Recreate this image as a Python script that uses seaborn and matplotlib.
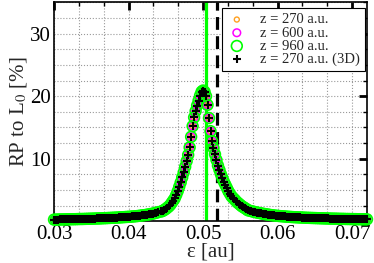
import matplotlib
matplotlib.use("Agg")
import matplotlib.pyplot as plt
import seaborn as sns
from matplotlib.ticker import MultipleLocator, FormatStrFormatter

sns.set_theme(style="white")
plt.rcParams['font.family'] = ['Liberation Serif', 'DejaVu Serif']
plt.rcParams['mathtext.fontset'] = 'stix'

# resonance scan: epsilon [au] vs RP to L0 [%]
eps_left = [0.03000, 0.03025, 0.03050, 0.03075, 0.03100, 0.03125, 0.03150, 0.03175,
            0.03200, 0.03225, 0.03250, 0.03275, 0.03300, 0.03325, 0.03350, 0.03375,
            0.03400, 0.03425, 0.03450, 0.03475, 0.03500, 0.03525, 0.03550, 0.03575,
            0.03600, 0.03625, 0.03650, 0.03675, 0.03700, 0.03725, 0.03750, 0.03775,
            0.03800, 0.03825, 0.03850, 0.03875, 0.03900, 0.03925, 0.03950, 0.03975,
            0.04000, 0.04025, 0.04050, 0.04075, 0.04100, 0.04125, 0.04150, 0.04175,
            0.04200, 0.04225, 0.04250, 0.04275, 0.04300, 0.04325, 0.04350, 0.04375,
            0.04400]
eps_peak = [0.0444, 0.0446, 0.0448, 0.0450, 0.0452, 0.0454, 0.0456, 0.0458, 0.0460, 0.0462,
            0.0464, 0.0466, 0.0468, 0.0470, 0.0472, 0.0474, 0.0476, 0.0478, 0.0480, 0.0482,
            0.0484, 0.0486, 0.0488, 0.0490, 0.0492, 0.0494, 0.0496, 0.0498, 0.0500, 0.0502,
            0.0504, 0.0506, 0.0508, 0.0510, 0.0512, 0.0514, 0.0516, 0.0518, 0.0520, 0.0522,
            0.0524, 0.0526, 0.0528, 0.0530, 0.0532, 0.0534, 0.0536, 0.0538, 0.0540, 0.0542,
            0.0544, 0.0546, 0.0548, 0.0550, 0.0552, 0.0554, 0.0556, 0.0558, 0.0560]
eps_right = [0.05625, 0.05650, 0.05675, 0.05700, 0.05725, 0.05750, 0.05775, 0.05800,
             0.05825, 0.05850, 0.05875, 0.05900, 0.05925, 0.05950, 0.05975, 0.06000,
             0.06025, 0.06050, 0.06075, 0.06100, 0.06125, 0.06150, 0.06175, 0.06200,
             0.06225, 0.06250, 0.06275, 0.06300, 0.06325, 0.06350, 0.06375, 0.06400,
             0.06425, 0.06450, 0.06475, 0.06500, 0.06525, 0.06550, 0.06575, 0.06600,
             0.06625, 0.06650, 0.06675, 0.06700, 0.06725, 0.06750, 0.06775, 0.06800,
             0.06825, 0.06850, 0.06875, 0.06900, 0.06925, 0.06950, 0.06975, 0.07000,
             0.07025, 0.07050, 0.07075, 0.07100, 0.07125, 0.07150, 0.07175, 0.07200]

rp_left = [0.25, 0.25, 0.26, 0.27, 0.28, 0.28, 0.29, 0.30,
           0.30, 0.31, 0.32, 0.32, 0.33, 0.34, 0.35, 0.35,
           0.36, 0.37, 0.38, 0.39, 0.40, 0.41, 0.42, 0.43,
           0.44, 0.45, 0.47, 0.48, 0.49, 0.51, 0.52, 0.54,
           0.55, 0.57, 0.58, 0.60, 0.62, 0.64, 0.66, 0.68,
           0.70, 0.72, 0.75, 0.77, 0.80, 0.83, 0.87, 0.91,
           0.95, 0.99, 1.04, 1.09, 1.15, 1.21, 1.28, 1.36,
           1.45]
rp_peak = [1.55, 1.65, 1.8, 1.95, 2.15, 2.35, 2.6, 2.95, 3.3, 3.65,
           4.2, 4.8, 5.5, 6.2, 7.0, 7.8, 8.7, 9.6, 10.6, 11.8,
           13.5, 15.2, 16.6, 17.6, 18.5, 19.3, 20.1, 20.7, 20.9, 20.7,
           20.0, 18.6, 16.5, 14.4, 12.8, 11.7, 10.7, 9.8, 8.9, 8.2,
           7.5, 6.9, 6.3, 5.8, 5.3, 4.8, 4.4, 4.0, 3.75, 3.5,
           3.25, 3.0, 2.8, 2.6, 2.4, 2.25, 2.1, 1.95, 1.75]
rp_right = [1.68, 1.60, 1.52, 1.45, 1.38, 1.32, 1.26, 1.20,
            1.15, 1.10, 1.05, 1.00, 0.96, 0.92, 0.88, 0.85,
            0.82, 0.80, 0.77, 0.75, 0.72, 0.70, 0.68, 0.66,
            0.64, 0.63, 0.61, 0.60, 0.58, 0.57, 0.55, 0.54,
            0.53, 0.52, 0.51, 0.50, 0.49, 0.48, 0.47, 0.46,
            0.45, 0.44, 0.43, 0.42, 0.41, 0.40, 0.40, 0.39,
            0.38, 0.37, 0.37, 0.36, 0.35, 0.35, 0.34, 0.34,
            0.33, 0.33, 0.32, 0.32, 0.31, 0.31, 0.30, 0.30]

eps = eps_left + eps_peak + eps_right
rp_2d = rp_left + rp_peak + rp_right

# the three 2D runs and the 3D run lie on top of each other
rp_z270 = rp_2d
rp_z600 = rp_2d
rp_z960 = rp_2d
rp_3d = list(rp_2d)

eps_green = 0.05045
eps_dash = 0.0519

fig = plt.figure(figsize=(3.74, 2.63), dpi=100)
ax = fig.add_axes([0.1444, 0.159, 0.8369, 0.832])

ax.axvline(eps_green, color='#00ff00', lw=2.3, zorder=2)
ax.axvline(eps_dash, color='black', lw=2.3, dashes=(4, 2), zorder=2)

sns.scatterplot(x=eps, y=rp_z270, ax=ax, marker='o', s=13, facecolor='none',
                edgecolor='#ffa020', linewidth=1.0, label='z = 270 a.u.',
                clip_on=False, zorder=3)
sns.scatterplot(x=eps, y=rp_z600, ax=ax, marker='o', s=30, facecolor='none',
                edgecolor='#ff00ff', linewidth=1.1, label='z = 600 a.u.',
                clip_on=False, zorder=3)
sns.scatterplot(x=eps, y=rp_z960, ax=ax, marker='o', s=60, facecolor='none',
                edgecolor='#00ff00', linewidth=1.2, label='z = 960 a.u.',
                clip_on=False, zorder=3)
sns.scatterplot(x=eps, y=rp_3d, ax=ax, marker='+', s=28, color='black',
                linewidth=1.5, label='z = 270 a.u. (3D)', clip_on=False, zorder=4)

ax.set_xlim(0.03, 0.072)
ax.set_ylim(0, 35)
ax.set_xticks([0.03, 0.04, 0.05, 0.06, 0.07])
ax.xaxis.set_major_formatter(FormatStrFormatter('%.2f'))
ax.xaxis.set_minor_locator(MultipleLocator(0.01 / 3))
ax.set_yticks([10, 20, 30])
ax.yaxis.set_minor_locator(MultipleLocator(2.5))

ax.grid(which='both', linestyle=':', color='#999999', lw=0.8)
ax.set_axisbelow(True)
ax.tick_params(which='both', direction='in', top=True, right=True,
               labelsize=15, colors='black')
ax.tick_params(which='major', length=6, width=2, pad=3)
ax.tick_params(which='minor', length=3, width=1)
ax.tick_params(axis='y', which='major', pad=2)
for sp in ax.spines.values():
    sp.set_color('black')
    sp.set_linewidth(1.2)

ax.set_xlabel('ε [au]', fontsize=15, labelpad=-1)
ax.set_ylabel(r'RP to L$_0$ [%]', fontsize=15, labelpad=1)

leg = ax.legend(loc='upper right', bbox_to_anchor=(0.994, 0.974), borderaxespad=0,
                fontsize=10.5, frameon=True, fancybox=False, framealpha=1,
                edgecolor='black', handlelength=1.4, handletextpad=0.9,
                labelspacing=0.0, borderpad=0.35)
leg.get_frame().set_linewidth(0.8)

fig.savefig('out.png', dpi=100)
